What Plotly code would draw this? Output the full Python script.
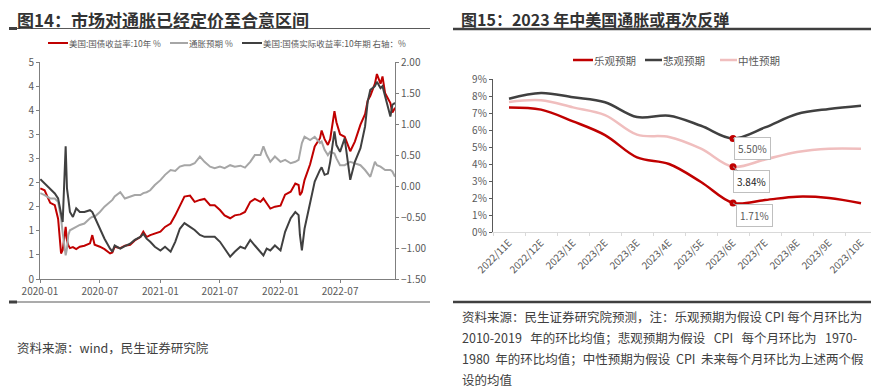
import plotly.graph_objects as go

# ---------------- Figure 14 data ----------------
dates = [
    "2020-01-02", "2020-01-15", "2020-02-01", "2020-02-15", "2020-02-25", "2020-03-05",
    "2020-03-10", "2020-03-19", "2020-03-23", "2020-03-27", "2020-04-01", "2020-04-10",
    "2020-04-20", "2020-05-01", "2020-05-15", "2020-06-01", "2020-06-08", "2020-06-15",
    "2020-07-01", "2020-07-15", "2020-08-01", "2020-08-08", "2020-08-15", "2020-09-01",
    "2020-09-15", "2020-10-01", "2020-10-15", "2020-11-01", "2020-11-10", "2020-11-20",
    "2020-12-01", "2020-12-15", "2021-01-01", "2021-01-15", "2021-02-01", "2021-02-15",
    "2021-03-01", "2021-03-15", "2021-04-01", "2021-04-15", "2021-05-01", "2021-05-15",
    "2021-06-01", "2021-06-15", "2021-07-01", "2021-07-15", "2021-08-01", "2021-08-15",
    "2021-09-01", "2021-09-15", "2021-10-01", "2021-10-15", "2021-11-01", "2021-11-10",
    "2021-11-20", "2021-12-01", "2021-12-15", "2022-01-01", "2022-01-15", "2022-02-01",
    "2022-02-15", "2022-02-25", "2022-03-01", "2022-03-07", "2022-03-15", "2022-04-01",
    "2022-04-15", "2022-05-01", "2022-05-06", "2022-05-15", "2022-05-25", "2022-06-01",
    "2022-06-14", "2022-06-20", "2022-07-01", "2022-07-15", "2022-08-01", "2022-08-15",
    "2022-09-01", "2022-09-15", "2022-09-23", "2022-10-01", "2022-10-15", "2022-10-21",
    "2022-11-01", "2022-11-07", "2022-11-15", "2022-12-01", "2022-12-07", "2022-12-15",
]
us_10y = [
    1.88, 1.84, 1.58, 1.53, 1.25, 0.53,
    0.60, 1.08, 0.80, 0.70, 0.64, 0.66,
    0.62, 0.67, 0.69, 0.74, 0.91, 0.71,
    0.67, 0.62, 0.53, 0.55, 0.67, 0.64,
    0.69, 0.71, 0.80, 0.87, 0.98, 0.87,
    0.91, 0.94, 0.98, 1.08, 1.15, 1.32,
    1.53, 1.71, 1.73, 1.60, 1.64, 1.66,
    1.53, 1.53, 1.43, 1.32, 1.26, 1.32,
    1.34, 1.39, 1.60, 1.66, 1.60, 1.67,
    1.57, 1.46, 1.50, 1.52, 1.75, 1.81,
    1.98, 1.95, 1.74, 1.80, 2.05, 2.38,
    2.75, 2.92, 3.08, 2.90, 2.78, 2.90,
    3.48, 3.25, 3.00, 2.95, 2.65, 2.85,
    3.20, 3.42, 3.70, 3.80, 4.05, 4.25,
    4.05, 4.20, 3.85, 3.65, 3.45, 3.55,
]
breakeven = [
    1.78, 1.74, 1.67, 1.67, 1.60, 1.26,
    0.95, 0.49, 0.63, 0.91, 1.01, 1.05,
    1.08, 1.12, 1.15, 1.26, 1.29, 1.29,
    1.39, 1.50, 1.60, 1.64, 1.71, 1.80,
    1.67, 1.71, 1.74, 1.74, 1.78, 1.80,
    1.84, 1.95, 2.05, 2.16, 2.26, 2.24,
    2.33, 2.36, 2.36, 2.40, 2.54, 2.43,
    2.33, 2.30, 2.33, 2.30, 2.36, 2.33,
    2.35, 2.31, 2.43, 2.57, 2.57, 2.75,
    2.57, 2.43, 2.54, 2.43, 2.47, 2.40,
    2.43, 2.47, 2.64, 2.82, 2.95, 2.88,
    2.95, 2.82, 2.85, 2.68, 2.57, 2.64,
    2.60, 2.50, 2.36, 2.36, 2.43, 2.40,
    2.36, 2.26, 2.19, 2.12, 2.43, 2.36,
    2.33, 2.30, 2.26, 2.26, 2.23, 2.12,
]
real_10y = [
    0.11, 0.04, -0.04, -0.12, -0.20, -0.45,
    -0.58, 0.64, -0.04, -0.20, -0.42, -0.50,
    -0.36, -0.42, -0.42, -0.39, -0.42, -0.50,
    -0.69, -0.85, -1.01, -1.06, -0.96, -1.01,
    -0.97, -0.93, -0.87, -0.82, -0.77, -0.85,
    -0.90, -0.98, -1.04, -0.98, -1.06, -0.90,
    -0.69, -0.60, -0.66, -0.71, -0.79, -0.82,
    -0.82, -0.82, -0.90, -1.01, -1.14, -1.06,
    -0.98, -1.01, -0.87, -0.96, -1.06, -1.12,
    -1.01, -1.04, -0.96, -1.04, -0.74, -0.52,
    -0.42, -0.47, -0.79, -1.04, -0.69, -0.25,
    0.07, 0.26, 0.30, 0.18, 0.20, 0.39,
    0.88, 0.66, 0.55, 0.77, 0.10, 0.39,
    0.61, 0.96, 1.36, 1.55, 1.61, 1.68,
    1.58, 1.61, 1.45, 1.12, 1.31, 1.34,
]
left_ytick_vals = [0, 0.5, 1, 1.5, 2, 2.5, 3, 3.5, 4, 4.5]
left_ytick_text = ["0", "1", "1", "2", "2", "3", "3", "4", "4", "5"]
x_tick_vals = ["2020-01-01", "2020-07-01", "2021-01-01", "2021-07-01", "2022-01-01", "2022-07-01"]
x_tick_text = ["2020-01", "2020-07", "2021-01", "2021-07", "2022-01", "2022-07"]

# ---------------- Figure 15 data ----------------
months = ["2022/11E", "2022/12E", "2023/1E", "2023/2E", "2023/3E", "2023/4E",
          "2023/5E", "2023/6E", "2023/7E", "2023/8E", "2023/9E", "2023/10E"]
optimistic = [7.33, 7.20, 6.51, 5.70, 4.39, 4.00, 2.94, 1.71, 1.88, 2.08, 2.00, 1.69]
pessimistic = [7.84, 8.18, 7.92, 7.63, 6.76, 6.84, 6.25, 5.50, 6.15, 6.94, 7.24, 7.43]
neutral = [7.65, 7.75, 7.33, 6.88, 5.73, 5.59, 4.90, 3.84, 4.27, 4.71, 4.90, 4.90]
highlight = "2023/6E"

RED = "#C00000"
DARK = "#404040"
GRAY = "#A6A6A6"
PINK = "#F0BEBE"
TXT = "#595959"
FONT = "Noto Sans CJK SC, Noto Sans, sans-serif"
OFF = 8              # page body margin of the browser
W, H = 879 - OFF, 391 - OFF


def px(x):
    return (x - OFF) / W


def py(y):
    return 1 - (y - OFF) / H


fig = go.Figure()

# left chart
fig.add_trace(go.Scatter(x=dates, y=us_10y, mode="lines", line=dict(color=RED, width=2),
                         xaxis="x", yaxis="y", name="美国:国债收益率:10年 %"))
fig.add_trace(go.Scatter(x=dates, y=breakeven, mode="lines", line=dict(color=GRAY, width=2),
                         xaxis="x", yaxis="y", name="通胀预期 %"))
fig.add_trace(go.Scatter(x=dates, y=real_10y, mode="lines", line=dict(color=DARK, width=2),
                         xaxis="x", yaxis="y3", name="美国:国债实际收益率:10年期 右轴：%"))

# right chart
for name, vals, col in [("中性预期", neutral, PINK), ("悲观预期", pessimistic, DARK),
                        ("乐观预期", optimistic, RED)]:
    fig.add_trace(go.Scatter(x=months, y=vals, mode="lines", name=name,
                             line=dict(color=col, width=2.5, shape="spline", smoothing=1),
                             xaxis="x2", yaxis="y2"))
hi = months.index(highlight)
for vals in (pessimistic, neutral, optimistic):
    fig.add_trace(go.Scatter(x=[months[hi]], y=[vals[hi]], mode="markers",
                             marker=dict(color=RED, size=7), xaxis="x2", yaxis="y2"))

axfont = dict(family=FONT, size=10, color=TXT)
common = dict(showgrid=False, zeroline=False, automargin=False, tickfont=axfont,
              ticks="outside", ticklen=3, showline=True)
fig.update_layout(
    width=W, height=H, autosize=False,
    margin=dict(l=0, r=0, t=0, b=0, pad=0, autoexpand=False),
    paper_bgcolor="white", plot_bgcolor="white", showlegend=False,
    font=dict(family=FONT, color=TXT),
    xaxis=dict(domain=[px(40), px(395)], anchor="y", type="date",
               range=["2020-01-01", "2022-12-15"], tickvals=x_tick_vals, ticktext=x_tick_text,
               tickcolor="#7F7F7F", linecolor="#7F7F7F", **common),
    yaxis=dict(domain=[py(279), py(62)], anchor="x", range=[0, 4.5],
               tickvals=left_ytick_vals, ticktext=left_ytick_text,
               tickcolor="#7F7F7F", linecolor="#7F7F7F", **common),
    yaxis3=dict(overlaying="y", side="right", anchor="x", range=[-1.5, 2.0],
                tickvals=[-1.5, -1.0, -0.5, 0, 0.5, 1.0, 1.5, 2.0], tickformat=".2f",
                tickcolor="#7F7F7F", linecolor="#7F7F7F", **common),
    xaxis2=dict(domain=[px(493), px(877)], anchor="y2", type="category",
                range=[-0.5, len(months) - 0.5], tickangle=-45, tickson="boundaries",
                tickcolor="#D9D9D9", linecolor="#D9D9D9", **common),
    yaxis2=dict(domain=[py(232), py(79)], anchor="x2", range=[0, 9], dtick=1,
                ticksuffix="%", tickcolor="#595959", linecolor="#595959", linewidth=1.3,
                **common),
)

shapes = []


def hline(x0, x1, y, color, width):
    shapes.append(dict(type="line", xref="paper", yref="paper", x0=px(x0), x1=px(x1),
                       y0=py(y), y1=py(y), line=dict(color=color, width=width)))


# title rules
hline(9, 430, 28.5, "#595959", 1.2)
hline(9, 17, 28.5, "#404040", 3)
hline(453, 875, 29, "#404040", 2.5)
# bottom rules
hline(9, 430, 302, "#595959", 1.2)
hline(9, 17, 302, "#404040", 3)
hline(453, 875, 302, "#404040", 2.5)
# legend samples
hline(48, 68, 43, RED, 2)
hline(170, 188, 43, GRAY, 2)
hline(242, 262, 43, DARK, 2)
hline(573, 593, 60, RED, 2.5)
hline(645, 662, 60, DARK, 2.5)
hline(720, 737, 60, PINK, 2.5)

ann = []


def text(x, y, s, size, color=TXT, bold=False, pad=1):
    ann.append(dict(xref="paper", yref="paper", x=px(x), y=py(y),
                    text=("<b>%s</b>" % s) if bold else s, align="left",
                    showarrow=False, xanchor="left", yanchor="middle", borderpad=pad,
                    font=dict(family=FONT, size=size, color=color)))


text(16, 19, "图14：市场对通胀已经定价至合意区间", 17, "#333333", True, 0)
text(460, 19, "图15：2023 年中美国通胀或再次反弹", 16, "#333333", True, 0)
text(67, 43, "美国:国债收益率:10年 %", 8.5)
text(187, 43, "通胀预期 %", 8.5)
text(261, 43, "美国:国债实际收益率:10年期 右轴：%", 8.5)
text(592, 60, "乐观预期", 10.5)
text(661, 60, "悲观预期", 10.5)
text(736, 60, "中性预期", 10.5)
text(15, 347, "资料来源：wind，民生证券研究院", 12.5, "#404040")
nb = "\u00a0"
text(460, 316, "资料来源：民生证券研究院预测，注：乐观预期为假设 CPI 每个月环比为", 12.5, "#404040")
text(460, 337, "2010-2019" + nb * 3 + "年的环比均值；悲观预期为假设" + nb * 3 + "CPI" + nb * 3
     + "每个月环比为" + nb * 3 + "1970-", 12.5, "#404040")
text(460, 358, "1980" + nb * 2 + "年的环比均值；中性预期为假设" + nb * 2 + "CPI" + nb * 2
     + "未来每个月环比为上述两个假", 12.5, "#404040")
text(460, 379, "设的均值", 12.5, "#404040")

for vals, dx, dy, col in [(pessimistic, 19, 10, TXT), (neutral, 18, 15, "#1A1A1A"),
                          (optimistic, 21, 13, TXT)]:
    ann.append(dict(xref="x2", yref="y2", x=months[hi], y=vals[hi],
                    text="%.2f%%" % vals[hi], showarrow=True, arrowhead=0, arrowwidth=1,
                    arrowcolor="#A6A6A6", ax=dx, ay=dy, bgcolor="white",
                    bordercolor="#BFBFBF", borderwidth=1, borderpad=3,
                    font=dict(family=FONT, size=10, color=col)))

fig.update_layout(shapes=shapes, annotations=ann)
fig.write_html("out.html")
